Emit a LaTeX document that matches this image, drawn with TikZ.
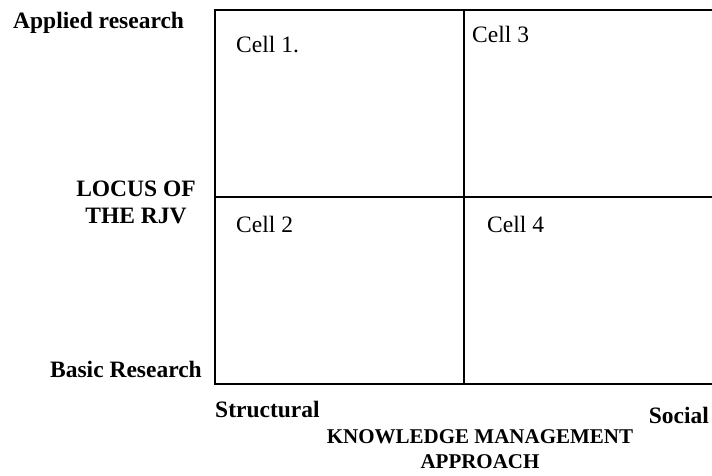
\documentclass[tikz,border=0pt]{standalone}
\usepackage{fontspec}
\setmainfont{Liberation Serif}
\usepackage{tikz}

\tikzset{
  side/.style={inner sep=0pt, font=\fontsize{23.5}{27}\selectfont\bfseries},
  cell/.style={inner sep=0pt, anchor=base west, font=\fontsize{23.5}{27}\selectfont}
}

\begin{document}
\begin{tikzpicture}[x=1pt, y=-1pt]
    \useasboundingbox (0,0) rectangle (712,475);
    % grid
    \draw [line width=1.3pt](712,10)--(215,10)--(215,384)--(712,384);
    \draw [line width=1.3pt](464,10)--(464,384);
    \draw [line width=1.3pt](215,197)--(712,197);
    % cells
    \node [cell] (c1) at (236,52) {Cell 1.};
    \node [cell] (c3) at (472,42) {Cell 3};
    \node [cell] (c2) at (236,232) {Cell 2};
    \node [cell] (c4) at (487,232) {Cell 4};
    % vertical axis
    \node [side, anchor=base west] (applied) at (13,28) {Applied research};
    \node [side, anchor=base, align=center] (locus) at (136,223) {LOCUS OF\\THE RJV};
    \node [side, anchor=base east] (basic) at (202,377) {Basic Research};
    % horizontal axis
    \node [side, anchor=base west] (structural) at (215,417) {Structural};
    \node [side, anchor=base east] (social) at (709,423) {Social};
    \node [side, font=\fontsize{21}{25}\selectfont\bfseries, anchor=base, align=center] (kma) at (480,468) {KNOWLEDGE MANAGEMENT\\APPROACH};
\end{tikzpicture}
\end{document}
